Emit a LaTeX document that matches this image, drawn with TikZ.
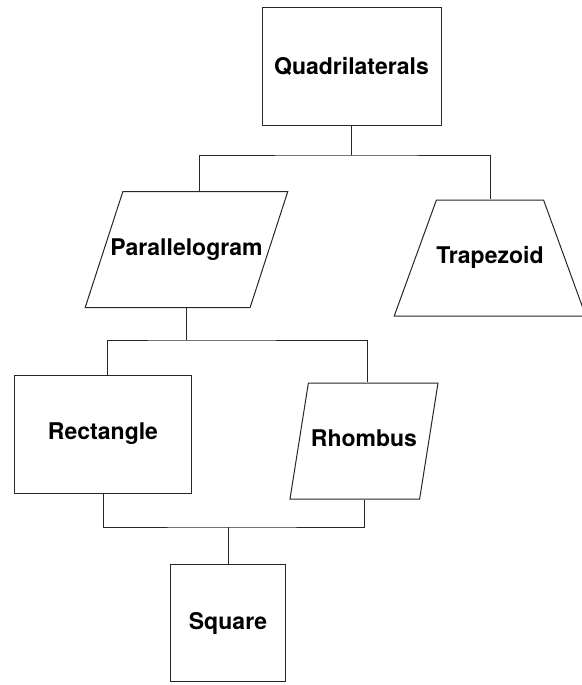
\documentclass[tikz,border=0pt]{standalone}
\usepackage{fontspec}
\setmainfont{TeX Gyre Heros}
\usetikzlibrary{shapes.geometric}

\begin{document}
\begin{tikzpicture}[x=1pt,y=-1pt,line width=1pt,
  font=\fontsize{23}{27}\selectfont\bfseries,
  box/.style={draw=black!85,rectangle,inner sep=0pt},
  slanted/.style 2 args={draw=black!85,trapezium,trapezium stretches body,
    text height=16pt,text depth=5pt,inner xsep=0pt,inner ysep=47.5pt,
    trapezium left angle=#1,trapezium right angle=#2}]
  \useasboundingbox (0,0) rectangle (581,685);
  % shapes
  \node[box,minimum width=179pt,minimum height=117pt] (quad) at (351.5,66.5) {Quadrilaterals};
  \node[slanted={72}{108},inner xsep=-12.5pt] (para) at (186.5,249.5) {Parallelogram};
  \node[slanted={70}{70},minimum width=190pt] (trap) at (490,258) {Trapezoid};
  \node[box,minimum width=177pt,minimum height=118pt] (rect) at (103,434) {Rectangle};
  \node[slanted={81}{99},minimum width=148pt] (rhomb) at (364,441) {Rhombus};
  \node[box,minimum width=115pt,minimum height=117pt] (sq) at (228,623) {Square};
  % connectors
  \coordinate (bar1) at (348,155);
  \coordinate (bar2) at (187,340);
  \coordinate (bar3) at (230,527);
  \draw[black!85] (quad.south) -- (quad.south |- bar1);
  \draw[black!85] ([xshift=13pt]para.north) |- (bar1) -| (trap.north);
  \draw[black!85] (para.south) -- (para.south |- bar2);
  \draw[black!85] ([xshift=4pt]rect.north) |- (bar2) -| ([xshift=3pt]rhomb.north);
  \draw[black!85] (rect.south) |- (bar3) -| (rhomb.south);
  \draw[black!85] (sq.north) -- (sq.north |- bar3);
\end{tikzpicture}
\end{document}
